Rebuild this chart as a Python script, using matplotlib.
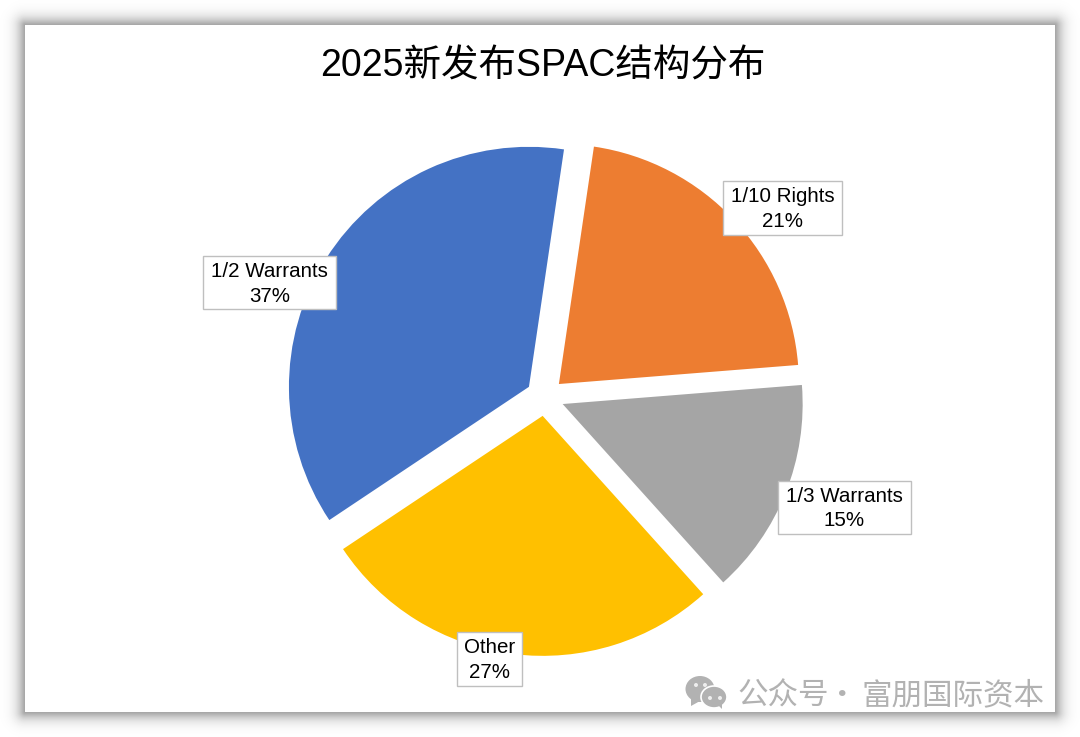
import matplotlib
matplotlib.use("Agg")
import matplotlib.pyplot as plt
from matplotlib.patches import Rectangle, Ellipse, Polygon
import numpy as np

# SPAC structures, clockwise from the orange slice
labels = ["1/10 Rights", "1/3 Warrants", "Other", "1/2 Warrants"]
shares = [21.4, 14.6, 27.3, 36.7]
colors = ["#ED7D31", "#A5A5A5", "#FFC000", "#4472C4"]
title = "2025新发布SPAC结构分布"
watermark_left = "公众号"
watermark_dot = "·"
watermark_right = "富朋国际资本"

# label boxes in pixels: left, top, right, bottom
boxes = [(723, 181, 842, 235), (778, 481, 911, 534), (457, 632, 522, 686), (203, 256, 336, 309)]

W, H = 1080, 737
latin_cjk = ["Liberation Sans", "Noto Sans CJK SC"]

fig = plt.figure(figsize=(W / 100, H / 100), dpi=100)
ax = fig.add_axes([0, 0, 1, 1])
ax.set_xlim(0, W)
ax.set_ylim(0, H)
ax.axis("off")

# soft shadow round the white card
yy, xx = np.mgrid[0:H, 0:W] + 0.5
dx = np.maximum(np.maximum(25 - xx, xx - 1055), 0)
dy = np.maximum(np.maximum(25 - yy, yy - 712), 0)
dist = np.hypot(dx, dy)
shade = 255 - 90 * np.exp(-(dist / 8) ** 1.3)
ax.imshow(shade, cmap="gray", vmin=0, vmax=255, extent=(0, W, H, 0), zorder=0, aspect="auto")
ax.add_patch(Rectangle((25, H - 712), 1030, 687, fc="white", ec="none", zorder=1))

# explode is in data units here because the axes are in pixels
wedges, _ = ax.pie(shares, colors=colors, startangle=81.6, counterclock=False,
                   radius=240, center=(545, H - 397), explode=[19] * 4, frame=True,
                   wedgeprops={"linewidth": 0, "zorder": 2})
ax.set_xlim(0, W)
ax.set_ylim(0, H)
ax.set_aspect("auto")
ax.axis("off")

for name, share, (l, t, r, b) in zip(labels, shares, boxes):
    ax.add_patch(Rectangle((l, H - b), r - l, b - t, fc="white", ec="#BFBFBF", lw=1.0, zorder=3))
    ax.text((l + r) / 2, H - (t + b) / 2 - 1, f"{name}\n{share:.0f}%", ha="center", va="center",
            fontsize=14.8, family="Liberation Sans", linespacing=1.4, color="black", zorder=4)

ax.text(543, H - 67, title, ha="center", va="center", fontsize=27, family=latin_cjk,
        color="black", zorder=4)

# watermark, WeChat bubbles then text
grey = "#B2B2B2"
ax.add_patch(Ellipse((700, H - 689), 29, 26, fc=grey, ec="none", zorder=4))
ax.add_patch(Polygon([(691, H - 698), (691, H - 706), (700, H - 701)], fc=grey, ec="none", zorder=4))
ax.add_patch(Ellipse((714, H - 697), 26, 22, fc=grey, ec="white", lw=1.2, zorder=5))
ax.add_patch(Polygon([(718, H - 705), (722, H - 709), (722, H - 702)], fc=grey, ec="none", zorder=5))
for ex, ey in [(696, 685), (705, 685), (710, 698), (720, 698)]:
    ax.add_patch(Ellipse((ex, H - ey), 4, 4, fc="#EEEEEE", ec="none", zorder=6))
ax.text(737, H - 696, watermark_left, ha="left", va="center", fontsize=22,
        family="Noto Sans CJK SC", color=grey, zorder=4)
ax.text(842, H - 696, watermark_dot, ha="center", va="center", fontsize=22,
        family="Noto Sans CJK SC", color=grey, zorder=4)
ax.text(1045, H - 696, watermark_right, ha="right", va="center", fontsize=22,
        family="Noto Sans CJK SC", color=grey, zorder=4)

fig.savefig("out.png", dpi=100)
